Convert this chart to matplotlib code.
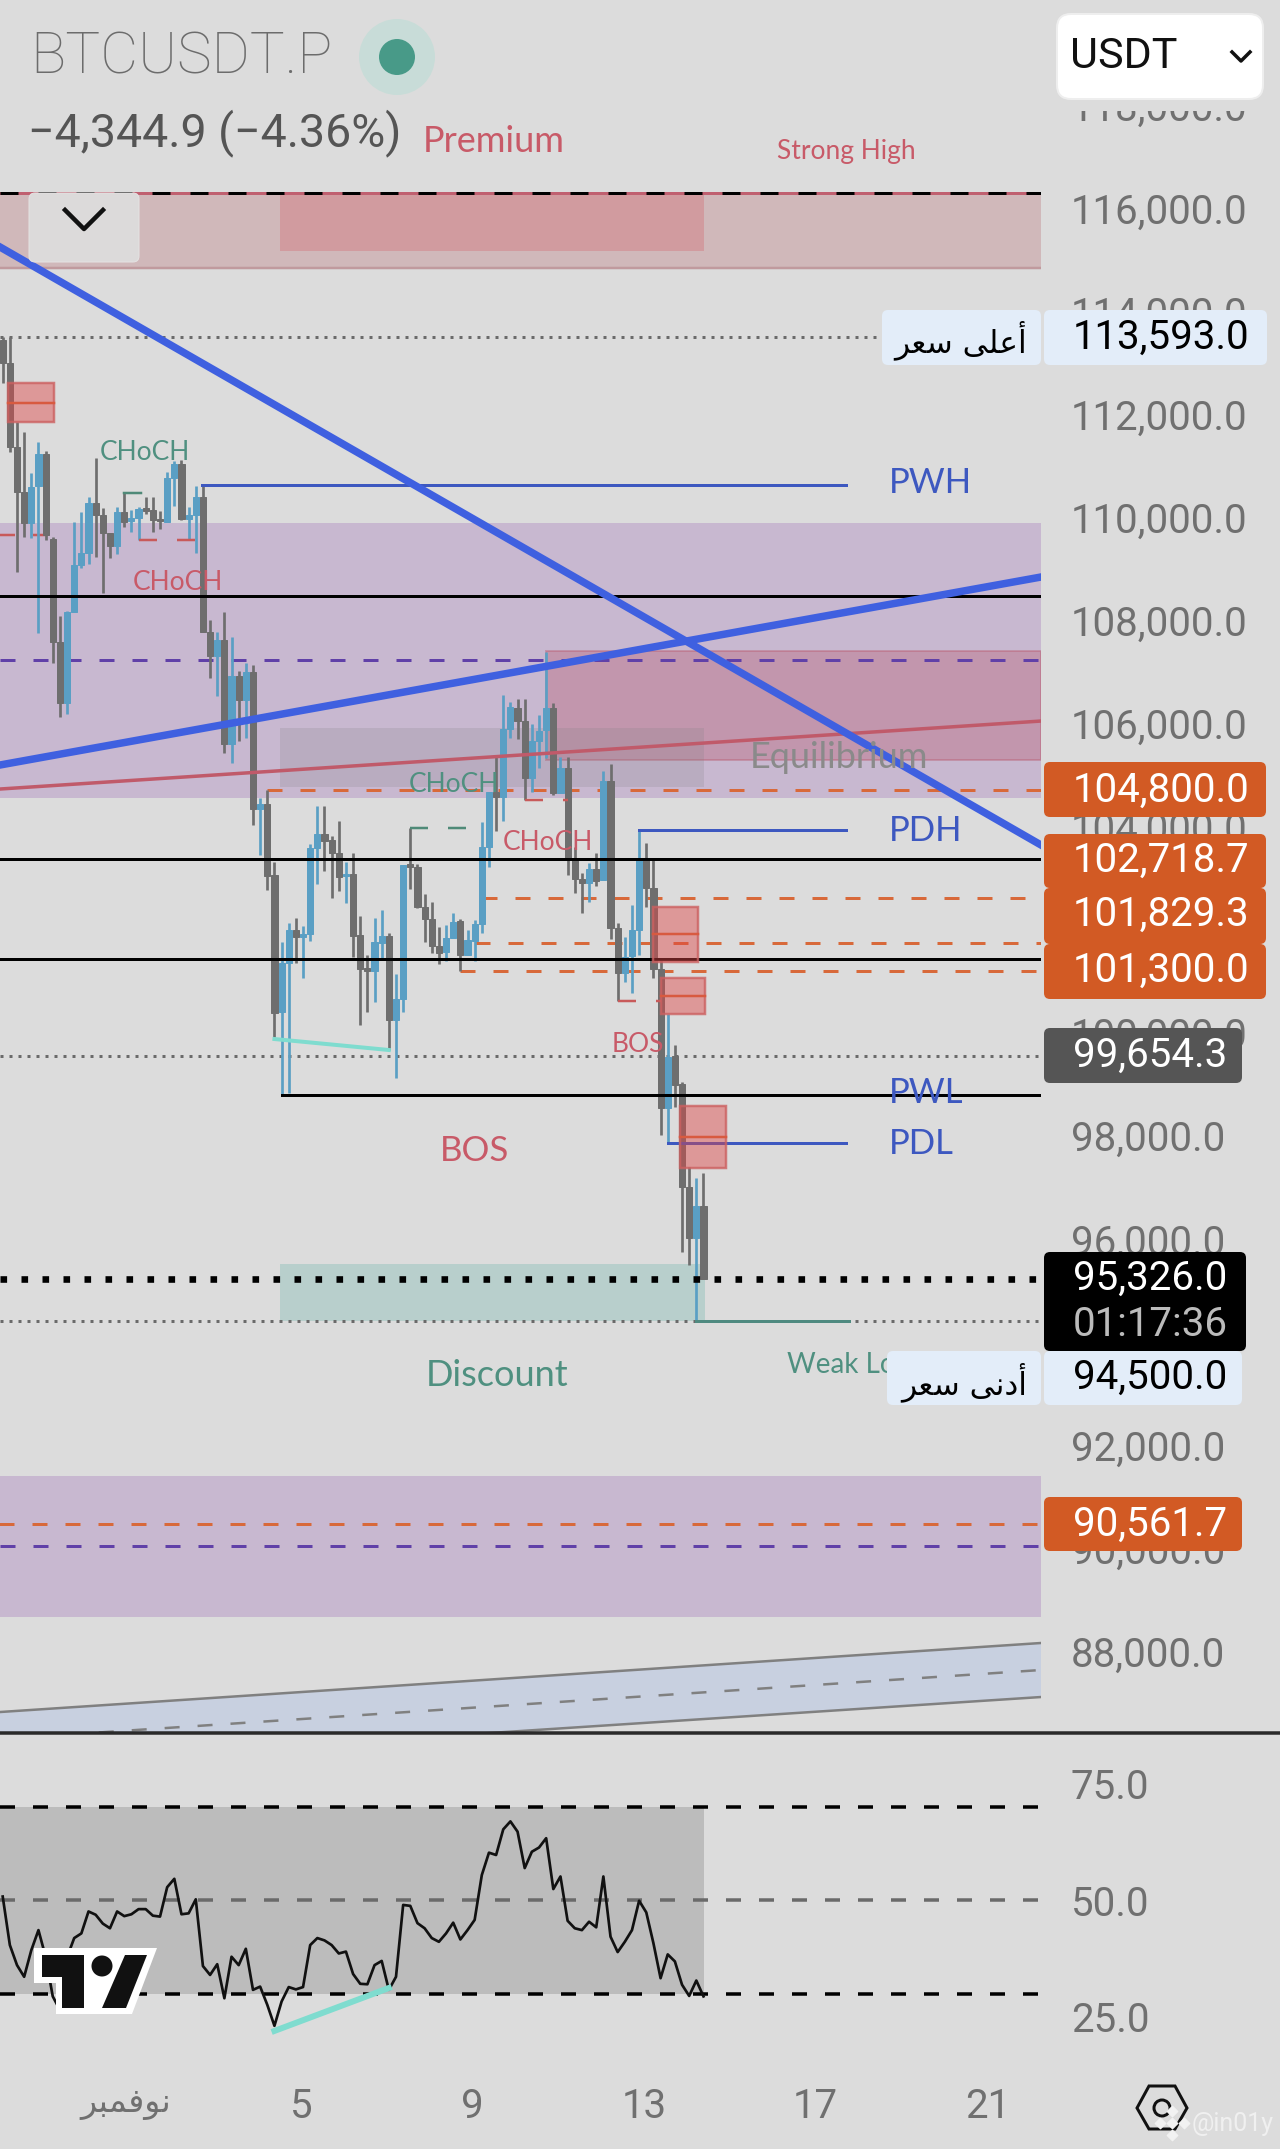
#!/usr/bin/env python3
"""
BTCUSDT.P 4h chart with smart-money zones and an RSI pane below it.
"""

import matplotlib

matplotlib.use("Agg")
import matplotlib.pyplot as plt
from matplotlib.patches import Circle, FancyBboxPatch, Polygon, Rectangle
from matplotlib.transforms import ScaledTranslation

W, H = 1280, 2149

# candles, one list per field, oldest first
opens = [113535, 113082, 111466, 110592, 109978, 110703, 111317, 109668, 107682, 106486,
         108264, 109170, 109396, 110366, 110140, 109797, 109538, 110192, 110023, 110088,
         110269, 110237, 110062, 110010, 110851, 111129, 110062, 110140, 110496, 107876,
         107411, 107715, 105697, 107016, 106551, 107100, 104430, 104527, 103156, 100491,
         101442, 102089, 101959, 102011, 103673, 103951, 103835, 103589, 103143, 103169,
         101992, 101345, 101300, 101843, 101972, 100343, 100744, 103363, 103318, 102542,
         102296, 101778, 101668, 101927, 102263, 101604, 101882, 102205, 103705, 104773,
         104663, 105982, 106402, 106143, 105031, 105755, 105969, 106402, 104753, 105238,
         103447, 103072, 102994, 103266, 103059, 104979, 102121, 101248, 101584, 102089,
         103460, 102897, 101326, 98629, 99651, 99095, 97097, 96120, 96741]
highs = [113600, 113600, 111951, 111750, 110948, 111563, 111388, 109719, 108180, 108284,
         110010, 110192, 110495, 111239, 110269, 109797, 110301, 110560, 110237, 110301,
         110483, 110483, 110224, 110981, 111194, 111207, 110289, 110703, 110722, 108103,
         107876, 108264, 107779, 107120, 107262, 107230, 104643, 104805, 103415, 101862,
         102218, 102315, 102166, 103757, 104495, 104495, 103913, 104210, 103415, 103576,
         102360, 101604, 102315, 102477, 102037, 101235, 103350, 104061, 103369, 102787,
         102639, 102141, 102186, 102425, 102296, 102089, 102283, 104178, 104773, 105452,
         106648, 106506, 106564, 106564, 106079, 106260, 107476, 106486, 105452, 105452,
         103693, 103188, 103395, 103589, 105173, 105303, 102231, 101959, 102574, 104029,
         103770, 103447, 101507, 100459, 99858, 99147, 97497, 97271, 97368]
lows = [112694, 111369, 109040, 109707, 109687, 107844, 109655, 107262, 106214, 106273,
        108264, 109105, 109183, 109319, 108620, 109299, 109377, 109901, 109816, 109655,
        110153, 109816, 109862, 110010, 110321, 110043, 109655, 109396, 107876, 106971,
        106635, 105516, 105322, 105762, 105820, 104126, 103544, 102865, 100019, 98888,
        98920, 101442, 101151, 101882, 102981, 103240, 102703, 102852, 102619, 101571,
        100246, 100504, 100698, 101539, 99761, 99211, 100491, 102884, 102509, 101863,
        101649, 101429, 101494, 101927, 101300, 101604, 101494, 102024, 103317, 104016,
        104210, 105807, 105788, 104611, 104760, 105225, 105419, 104708, 104740, 103156,
        102800, 102412, 102638, 102942, 103059, 101908, 100712, 101087, 100860, 101604,
        102528, 101151, 98112, 97983, 98662, 95848, 95590, 94500, 95326]
closes = [113082, 111466, 110592, 109978, 110690, 111317, 109752, 107682, 106486, 108264,
          109170, 109396, 110366, 110140, 109797, 109538, 110192, 110010, 110075, 110250,
          110224, 110043, 110023, 110851, 111129, 110056, 110140, 110496, 107876, 107411,
          107715, 105697, 107016, 106551, 107100, 104430, 104527, 103143, 100472, 101442,
          102089, 101947, 102011, 103673, 103951, 103822, 103589, 103124, 103169, 101979,
          101326, 101300, 101850, 101972, 100343, 100744, 103350, 103318, 102529, 102296,
          101778, 101649, 101940, 102251, 101604, 101895, 102205, 103706, 104773, 104663,
          105982, 106422, 106143, 105031, 105755, 105950, 106402, 104740, 105238, 103479,
          103072, 102994, 103266, 103046, 104979, 102121, 101248, 101571, 102089, 103479,
          102897, 101326, 98629, 99632, 99082, 97097, 96120, 96741, 95326]

rsi_values = [50.8, 40.4, 36.1, 33.6, 39.3, 43.6, 37.9, 29.4, 26.5, 37.8,
              41.9, 42.9, 47.6, 46.9, 45.0, 44.0, 47.6, 46.6, 47.0, 48.1,
              48.1, 46.7, 46.5, 52.8, 54.6, 47.0, 47.2, 50.2, 35.9, 34.0,
              36.3, 29.0, 37.9, 36.1, 39.6, 30.8, 31.5, 27.6, 23.1, 28.3,
              31.4, 30.9, 31.4, 40.4, 41.9, 41.4, 40.4, 38.6, 39.0, 34.2,
              32.1, 32.0, 36.1, 37.0, 30.8, 33.6, 49.0, 48.8, 45.1, 44.0,
              41.9, 41.1, 42.9, 45.2, 41.6, 43.6, 45.8, 55.4, 60.2, 59.7,
              65.2, 66.9, 64.7, 56.9, 60.4, 61.3, 63.3, 52.4, 55.1, 45.6,
              44.0, 43.6, 45.4, 44.2, 55.1, 42.2, 38.9, 41.1, 43.6, 49.9,
              47.4, 40.8, 33.3, 38.4, 36.9, 31.9, 29.5, 32.8, 29.4]

price_ticks = list(range(88000, 120000, 2000))
rsi_ticks = [25, 50, 75]
date_ticks = [17.2, 41.7, 65.7, 89.7, 113.7, 137.7]
# visual-order presentation forms, matplotlib does no Arabic shaping
date_labels = ["\uFEAE\uFE92\uFEE4\uFED3\uFEEE\uFEE7", "5", "9", "13", "17", "21"]

high_label = "\uFEAE\uFECC\uFEB3 \uFEF0\uFEE0\uFECB\uFE83"
low_label = "\uFEAE\uFECC\uFEB3 \uFEF0\uFEE7\uFEA9\uFE83"

black_levels = [108568, 103466, 101526]
pwl_level = 98888
orange_levels = [(104800.0, 37), (102718.7, 67), (101829.3, 66), (101300.0, 64), (90561.7, -1)]
purple_dashed = [107327, 90138]
dotted_levels = [113593, 99654.3, 94500]
last_price = 95326
blue_levels = [(110722, 27.9, 118), (104029, 89, 118), (97957, 93, 118)]
order_blocks = [
    (0.74, 7.2, 112701, 112313, 111944),
    (91, 97.3, 102535, 102011, 101468),
    (92, 98.2, 101158, 100808, 100459),
    (94.7, 101.2, 98674, 98073, 97472),
]

BG = "#dcdcdc"
BULL = "#5a9fc4"
BEAR = "#6e6e6e"
BLUE = "#3f60e0"
LEVEL_BLUE = "#3d58c0"
RED_TEXT = "#c85a68"
GREEN_TEXT = "#4f9080"
ORANGE = "#d25a24"
TEAL = "#7fdccf"
TAG_BLUE = "#e3edf9"
TICK_GRAY = "#707070"

XMIN, XMAX = -0.378, 145.2


def px(value):
    """Pixels to points at dpi 100."""
    return value * 0.72


def dashed(on, off, lw):
    """Dash pattern given in pixels."""
    return (0, (on / lw, off / lw))


def draw_zones(ax):
    def rect(x0, x1, top, bottom, **kw):
        ax.add_patch(Rectangle((x0, bottom), x1 - x0, top - bottom, **kw))

    rect(XMIN, XMAX, 116387, 114932, fc="#d0b8ba", ec="none", zorder=1)
    ax.plot([XMIN, XMAX], [114932, 114932], color="#c09a9e", lw=px(2.5), zorder=1.1)
    rect(38.8, 98.1, 116387, 115267, fc="#d19b9f", ec="none", zorder=1.1)
    ax.plot([XMIN, XMAX], [116387, 116387], color="#c06070", lw=px(3), zorder=2)
    ax.plot([XMIN, XMAX], [116387, 116387], color="black", lw=px(3),
            ls=dashed(18, 20, 3), zorder=2.1)

    rect(XMIN, XMAX, 109985, 104650, fc="#c8b8d0", ec="none", zorder=1)
    rect(76, XMAX, 107501, 105387, fc=(0.72, 0.35, 0.43, 0.35),
         ec=(0.72, 0.35, 0.43, 0.4), lw=px(2), zorder=1.2)
    rect(38.8, 98.1, 106008, 104863, fc=(0.5, 0.5, 0.5, 0.2), ec="none", zorder=1.3)
    rect(38.8, 98.2, 95609, 94500, fc="#b8cfcc", ec="none", zorder=1.1)
    rect(XMIN, XMAX, 91497, 88761, fc="#c8b8d0", ec="none", zorder=1)

    # parallel channel at the bottom
    ax.add_patch(Polygon([(XMIN, 86918), (XMAX, 88257), (XMAX, 87209), (XMIN, 85890)],
                         fc="#c8d0e0", ec="none", zorder=1))
    ax.plot([XMIN, XMAX], [86918, 88257], color="#808080", lw=px(2.5), zorder=2)
    ax.plot([XMIN, XMAX], [85890, 87209], color="#808080", lw=px(2.5), zorder=2)
    ax.plot([XMIN, XMAX], [86394, 87733], color="#808080", lw=px(2.5),
            ls=dashed(15, 18, 2.5), zorder=2)


def draw_levels(ax):
    for level in dotted_levels:
        ax.plot([XMIN, XMAX], [level, level], color="#6a6a6a", lw=px(3),
                ls=dashed(3, 6, 3), zorder=2)
    for level in purple_dashed:
        ax.plot([XMIN, XMAX], [level, level], color="#6040a8", lw=px(3),
                ls=dashed(15, 18, 3), zorder=2)
    for level, start in orange_levels:
        ax.plot([start, XMAX], [level, level], color="#d8693a", lw=px(3),
                ls=dashed(15, 18, 3), zorder=2)

    # short structure breaks
    ax.plot([XMIN, 6], [109752, 109752], color="#c85a5a", lw=px(2.5),
            ls=dashed(15, 18, 2.5), zorder=2)
    ax.plot([19, 27], [109655, 109655], color="#c85a5a", lw=px(2.5),
            ls=dashed(18, 20, 2.5), zorder=4)
    ax.plot([73, 79], [104611, 104611], color="#c85a5a", lw=px(2.5),
            ls=dashed(18, 20, 2.5), zorder=4)
    ax.plot([86, 92], [100712, 100712], color="#c85a5a", lw=px(2.5),
            ls=dashed(18, 20, 2.5), zorder=4)
    ax.plot([17, 19.4], [110567, 110567], color="#4f8a78", lw=px(2.5), zorder=4)
    ax.plot([57, 65], [104068, 104068], color="#4f8a78", lw=px(2.5),
            ls=dashed(18, 20, 2.5), zorder=4)


def draw_candles(ax):
    idx = list(range(len(opens)))
    colors = [BULL if c >= o else BEAR for o, c in zip(opens, closes)]
    ax.vlines(idx, lows, highs, colors=colors, lw=px(2.7), zorder=3)
    bottoms = [min(o, c) for o, c in zip(opens, closes)]
    heights = [abs(o - c) for o, c in zip(opens, closes)]
    ax.bar(idx, heights, bottom=bottoms, width=0.86, color=colors, edgecolor=colors,
           lw=px(1), zorder=3.1)


def draw_lines(ax):
    for level in black_levels:
        ax.plot([XMIN, XMAX], [level, level], color="black", lw=px(3), zorder=4)
    ax.plot([39, XMAX], [pwl_level, pwl_level], color="black", lw=px(3), zorder=4)

    for level, start, end in blue_levels:
        ax.plot([start, end], [level, level], color=LEVEL_BLUE, lw=px(3), zorder=4)
    ax.plot([97, 118.3], [94500, 94500], color="#4f8a80", lw=px(3), zorder=4)

    ax.plot([XMIN, XMAX], [104824, 106143], color="#c05a6a", lw=px(3.5), zorder=4)
    ax.plot([XMIN, XMAX], [115339, 103738], color=BLUE, lw=px(7.5), zorder=4.2)
    ax.plot([XMIN, XMAX], [105290, 108937], color=BLUE, lw=px(7.5), zorder=4.2)
    ax.plot([38, 54], [99974, 99761], color=TEAL, lw=px(4), zorder=4.1)

    ax.plot([XMIN, XMAX], [last_price, last_price], color="black", lw=px(6.6),
            ls=dashed(6.6, 14.4, 6.6), zorder=4.3)

    for x0, x1, top, mid, bottom in order_blocks:
        ax.add_patch(Rectangle((x0, bottom), x1 - x0, top - bottom,
                               fc=(0.88, 0.27, 0.27, 0.45), ec=(0.8, 0.38, 0.38, 0.8),
                               lw=px(2.5), zorder=5))
        ax.plot([x0, x1], [mid, mid], color="#d85a40", lw=px(2.5), zorder=5.1)


def draw_rsi(rsi):
    rsi.fill_between([XMIN, 98.1], 30, 70, color="#bcbcbc", lw=0, zorder=1)
    rsi.plot([XMIN, XMAX], [70, 70], color="black", lw=px(3.5), ls=dashed(15, 18, 3.5), zorder=2)
    rsi.plot([XMIN, XMAX], [50, 50], color="#6a6a6a", lw=px(3.5), ls=dashed(15, 18, 3.5), zorder=2)
    rsi.plot([XMIN, XMAX], [30, 30], color="black", lw=px(3.5), ls=dashed(15, 18, 3.5), zorder=2)
    rsi.plot(range(len(rsi_values)), rsi_values, color="#111111", lw=px(2.7), zorder=3)
    rsi.plot([38, 54], [22.0, 31.2], color=TEAL, lw=px(6), zorder=3.1)

    rsi.set_xlim(XMIN, XMAX)
    rsi.set_ylim(13.2, 85.2)
    rsi.yaxis.tick_right()
    rsi.set_yticks(rsi_ticks, [f"{t:.1f}" for t in rsi_ticks])
    rsi.set_xticks(date_ticks, date_labels)
    rsi.tick_params(length=0, colors=TICK_GRAY, labelsize=29, labelfontfamily="Roboto")
    rsi.tick_params(axis="y", pad=px(30))
    rsi.tick_params(axis="x", pad=px(15))
    rsi.get_xticklabels()[0].set_fontfamily("DejaVu Sans")
    rsi.get_xticklabels()[0].set_fontsize(24)
    for spine in rsi.spines.values():
        spine.set_visible(False)
    rsi.patch.set_visible(False)


def tag(ov, x0, y0, x1, y1, color, text=None, text_color="white", text_y=None):
    ov.add_patch(FancyBboxPatch((x0 + 4, y0 + 4), x1 - x0 - 8, y1 - y0 - 8,
                                boxstyle="round,pad=4,rounding_size=6",
                                fc=color, ec="none", zorder=10))
    if text:
        ov.text(1073, text_y if text_y else (y0 + y1) / 2, text, color=text_color,
                fontsize=29, family="Roboto", va="center", ha="left", zorder=11)


def draw_overlay(ov):
    def note(x, y, s, color, size, **kw):
        ov.text(x, y, s, color=color, fontsize=size, family="Lato", ha="left",
                va="center", zorder=6, **kw)

    # header
    ov.text(30, 58, "BTCUSDT.P", color="#6c6c6c", fontsize=42, family="Roboto",
            fontweight="light", va="center", zorder=11)
    ov.text(28, 133, "\u22124,344.9 (\u22124.36%)", color="#555555", fontsize=33.5,
            family="Roboto", va="center", zorder=11)
    ov.add_patch(Circle((397, 57), 38, fc="#c8dcd8", ec="none", zorder=11))
    ov.add_patch(Circle((397, 57), 18, fc="#489a88", ec="none", zorder=11))

    ov.add_patch(FancyBboxPatch((33, 197), 102, 61, boxstyle="round,pad=4,rounding_size=6",
                                fc="#dcdada", ec="#e4e2e2", lw=px(1), zorder=8))
    ov.plot([65, 84, 103], [210, 229, 210], color="#111111", lw=px(4.5), zorder=9)

    # the header hides the top of the price scale
    ov.add_patch(Rectangle((1050, 0), 230, 111, fc=BG, ec="none", zorder=11.5))

    # USDT switch
    ov.add_patch(FancyBboxPatch((1065, 22), 190, 69, boxstyle="round,pad=8,rounding_size=14",
                                fc="white", ec="#eeeeee", lw=px(2), zorder=12))
    ov.text(1070, 56, "USDT", color="#111111", fontsize=31, family="Roboto", va="center", zorder=13)
    ov.plot([1232, 1241, 1250], [52, 61, 52], color="#111111", lw=px(3.5), zorder=13)

    # chart annotations
    note(423, 141, "Premium", RED_TEXT, 26)
    note(777, 152, "Strong High", RED_TEXT, 19)
    note(750, 758, "Equilibrium", "#8a8a8a", 26)
    note(426, 1375, "Discount", GREEN_TEXT, 26)
    note(787, 1365, "Weak Low", GREEN_TEXT, 20)
    note(100, 453, "CHoCH", GREEN_TEXT, 19)
    note(133, 582, "CHoCH", RED_TEXT, 19)
    note(409, 785, "CHoCH", GREEN_TEXT, 19)
    note(503, 842, "CHoCH", RED_TEXT, 19)
    note(612, 1045, "BOS", RED_TEXT, 19)
    note(440, 1151, "BOS", RED_TEXT, 25)
    for y, s in [(483, "PWH"), (831, "PDH"), (1093, "PWL"), (1144, "PDL")]:
        note(889, y, s, LEVEL_BLUE, 25)

    # price tags
    tag(ov, 882, 310, 1041, 365, TAG_BLUE)
    ov.text(961, 340, high_label, color="black", fontsize=22.5, family="DejaVu Sans",
            ha="center", va="center", zorder=11)
    tag(ov, 1044, 310, 1267, 365, TAG_BLUE, "113,593.0", "black", 337)

    tag(ov, 1044, 762, 1266, 817, ORANGE, "104,800.0", "white", 790)
    tag(ov, 1044, 834, 1266, 888, ORANGE, "102,718.7", "white", 860)
    tag(ov, 1044, 888, 1266, 944, ORANGE, "101,829.3", "white", 914)
    tag(ov, 1044, 944, 1266, 999, ORANGE, "101,300.0", "white", 970)
    tag(ov, 1044, 1028, 1242, 1083, "#555555", "99,654.3", "white", 1055)
    tag(ov, 1044, 1252, 1246, 1351, "black", "95,326.0", "white", 1278)
    ov.text(1073, 1324, "01:17:36", color="#bbbbbb", fontsize=29, family="Roboto",
            va="center", zorder=11)
    tag(ov, 887, 1351, 1041, 1405, TAG_BLUE)
    ov.text(964, 1382, low_label, color="black", fontsize=22.5, family="DejaVu Sans",
            ha="center", va="center", zorder=11)
    tag(ov, 1044, 1351, 1242, 1405, TAG_BLUE, "94,500.0", "black", 1377)
    tag(ov, 1044, 1497, 1242, 1551, ORANGE, "90,561.7", "white", 1524)

    # pane separator
    ov.plot([0, W], [1733, 1733], color="#2a2a2a", lw=px(3.5), zorder=9)

    # logo
    ov.add_patch(Polygon([(34, 1948), (157, 1948), (132, 2014), (56, 2014), (56, 1983), (34, 1983)],
                         fc="white", ec="none", zorder=9))
    ov.add_patch(Polygon([(42, 1955), (84, 1955), (84, 2008), (62, 2008), (62, 1977), (42, 1977)],
                         fc="#111111", ec="none", zorder=9.1))
    ov.add_patch(Circle((102, 1966), 10.5, fc="#111111", ec="none", zorder=9.1))
    ov.add_patch(Polygon([(125, 1955), (147, 1955), (126, 2008), (102, 2008)],
                         fc="#111111", ec="none", zorder=9.1))

    # settings icon and watermark
    ov.add_patch(Polygon([(1137, 2108), (1149, 2086), (1175, 2086), (1187, 2108), (1175, 2129), (1149, 2129)],
                         fc="none", ec="#111111", lw=px(3), zorder=9))
    ov.add_patch(Circle((1162, 2108), 8, fc="none", ec="#111111", lw=px(3), zorder=9))
    ov.scatter([1172, 1160, 1184, 1172, 1172], [2123, 2123, 2123, 2111, 2135], marker="D",
               s=28, color="#f2f2f2", zorder=10)
    ov.text(1192, 2124, "@in01y", color="#f0f0f0", fontsize=18, family="Roboto",
            va="center", zorder=10)


def main():
    fig = plt.figure(figsize=(W / 100, H / 100), dpi=100, facecolor=BG)

    ax = fig.add_axes([0, 1 - 1733 / H, 1041 / W, 1733 / H], facecolor=BG)
    draw_zones(ax)
    draw_levels(ax)
    draw_candles(ax)
    draw_lines(ax)
    ax.set_xlim(XMIN, XMAX)
    ax.set_ylim(86511, 120131)
    ax.yaxis.tick_right()
    ax.set_yticks(price_ticks, [f"{t:,.1f}" for t in price_ticks])
    ax.set_xticks([])
    ax.tick_params(length=0, colors=TICK_GRAY, labelsize=29, labelfontfamily="Roboto",
                   pad=px(30))
    # the scale prints its numbers a little above the price they stand for
    shift = ScaledTranslation(0, 5 / 100, fig.dpi_scale_trans)
    for label in ax.get_yticklabels():
        label.set_transform(label.get_transform() + shift)
    for spine in ax.spines.values():
        spine.set_visible(False)

    rsi = fig.add_axes([0, 1 - 2072 / H, 1041 / W, (2072 - 1736) / H])
    draw_rsi(rsi)

    ov = fig.add_axes([0, 0, 1, 1], zorder=20)
    ov.set_xlim(0, W)
    ov.set_ylim(H, 0)
    ov.axis("off")
    draw_overlay(ov)

    fig.savefig("out.png", dpi=100, facecolor=BG)
    plt.close(fig)


if __name__ == "__main__":
    main()
